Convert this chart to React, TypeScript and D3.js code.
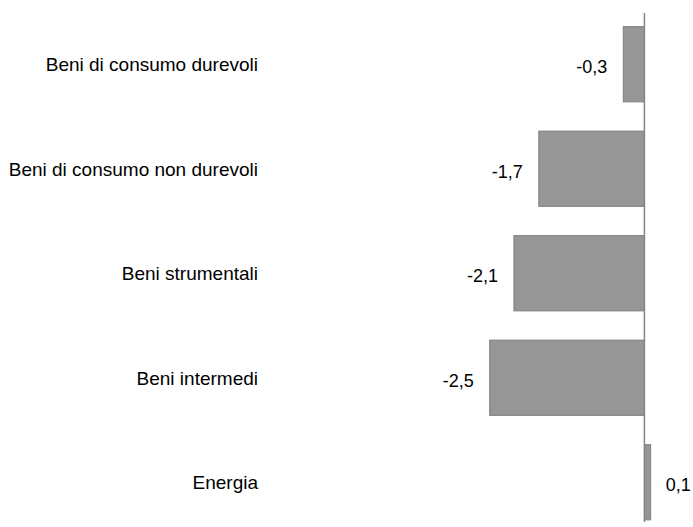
import React, { useEffect, useRef } from 'react';
import * as d3 from 'd3';

const categories = [
  'Beni di consumo durevoli',
  'Beni di consumo non durevoli',
  'Beni strumentali',
  'Beni intermedi',
  'Energia',
];
const values = [-0.34, -1.7, -2.1, -2.49, 0.1];
const valueLabels = ['-0,3', '-1,7', '-2,1', '-2,5', '0,1'];

const width = 693;
const height = 527;
const font = '"Liberation Sans", Arial, sans-serif';

export default function App() {
  const ref = useRef<SVGSVGElement>(null);

  useEffect(() => {
    const svg = d3.select(ref.current);
    svg.selectAll('*').remove();

    const rows = categories.map((c, i) => ({ cat: c, value: values[i], label: valueLabels[i] }));

    const x = d3.scaleLinear().domain([-3, 0.5]).range([458, 675.5]);
    const y = d3.scaleBand().domain(categories).range([12, 534.5]).paddingInner(0.28).paddingOuter(0.14);

    svg.append('g')
      .selectAll('rect')
      .data(rows)
      .join('rect')
      .attr('x', (d) => x(Math.min(0, d.value)))
      .attr('y', (d) => y(d.cat)!)
      .attr('width', (d) => Math.abs(x(d.value) - x(0)))
      .attr('height', y.bandwidth())
      .attr('fill', '#969696')
      .attr('stroke', '#7f7f7f')
      .attr('stroke-width', 1);

    // vertical axis at zero
    svg.append('line')
      .attr('x1', x(0)).attr('x2', x(0))
      .attr('y1', 13).attr('y2', 522)
      .attr('stroke', '#858585')
      .attr('stroke-width', 1.5);

    // category labels
    svg.append('g')
      .selectAll('text')
      .data(rows)
      .join('text')
      .attr('x', 258)
      .attr('y', (d) => y(d.cat)! + y.bandwidth() / 2 + 7)
      .attr('text-anchor', 'end')
      .attr('font-family', font)
      .attr('font-size', 19)
      .attr('fill', '#000')
      .text((d) => d.cat);

    // value labels
    svg.append('g')
      .selectAll('text')
      .data(rows)
      .join('text')
      .attr('x', (d) => (d.value < 0 ? x(d.value) - 16 : x(d.value) + 15))
      .attr('y', (d) => y(d.cat)! + y.bandwidth() / 2 + 9)
      .attr('text-anchor', (d) => (d.value < 0 ? 'end' : 'start'))
      .attr('font-family', font)
      .attr('font-size', 18)
      .attr('fill', '#000')
      .text((d) => d.label);
  }, []);

  return (
    <svg
      ref={ref}
      width={width}
      height={height}
      style={{ position: 'absolute', left: 0, top: 0, background: '#fff' }}
    />
  );
}
